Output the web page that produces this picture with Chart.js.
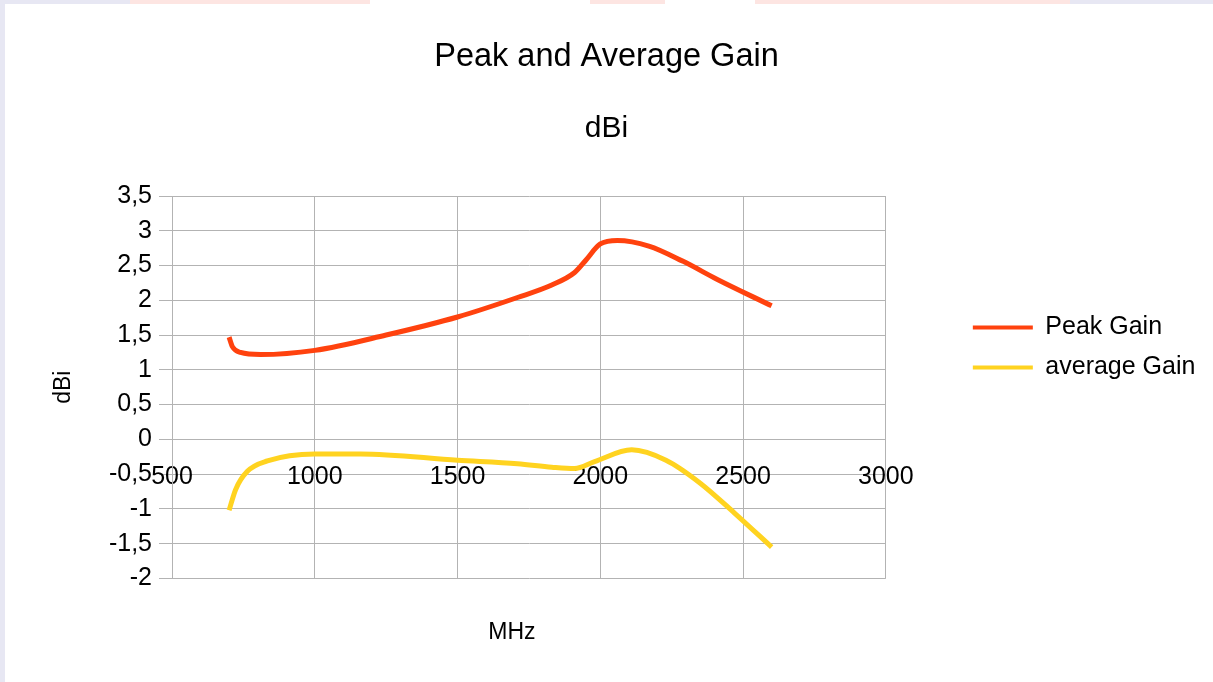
<!DOCTYPE html>
<html>
<head>
<meta charset="utf-8">
<title>Peak and Average Gain</title>
<script src="https://cdn.jsdelivr.net/npm/chart.js@4.4.0/dist/chart.umd.min.js"></script>
<style>
  html, body { margin: 0; padding: 0; background: #fff; }
  #wrap { position: relative; width: 1213px; height: 682px; overflow: hidden; }
  #wrap canvas { position: absolute; left: 0; top: 0; }
  /* faint strips left over from the original screenshot */
  #topStrip { position: absolute; left: 0; top: 0; width: 1213px; height: 4px; pointer-events: none;
    background: linear-gradient(to right, #e7e7f3 0 130px, #fde5e2 130px 370px, #fff 370px 590px,
      #fde5e2 590px 665px, #fff 665px 755px, #fde5e2 755px 1070px, #e7e7f3 1070px 1213px); }
  #leftStrip { position: absolute; left: 0; top: 0; width: 5px; height: 682px; background: #e7e7f3; pointer-events: none; }
</style>
</head>
<body>
<div id="wrap">
  <canvas id="gainChart" width="1213" height="682"></canvas>
  <div id="topStrip"></div>
  <div id="leftStrip"></div>
</div>
<script>
// values
var peakMHz  = [700, 712, 740, 810, 1000, 1250, 1500, 1710, 1830, 1910, 1950, 2000, 2060, 2170, 2290, 2410, 2600];
var peakGain = [1.47, 1.33, 1.25, 1.22, 1.28, 1.50, 1.76, 2.04, 2.22, 2.40, 2.58, 2.81, 2.86, 2.78, 2.56, 2.30, 1.92];

var avgMHz  = [700, 723, 764, 834, 1000, 1160, 1500, 1710, 1830, 1910, 1980, 2110, 2230, 2350, 2470, 2600];
var avgGain = [-1.02, -0.72, -0.46, -0.31, -0.21, -0.21, -0.30, -0.35, -0.40, -0.42, -0.32, -0.15, -0.30, -0.63, -1.06, -1.55];

var seriesNames = ['Peak Gain', 'average Gain'];
var xTicks = [500, 1000, 1500, 2000, 2500, 3000];
var yTicks = [-2, -1.5, -1, -0.5, 0, 0.5, 1, 1.5, 2, 2.5, 3, 3.5];

function points(xs, ys) {
  return xs.map(function(x, i) { return { x: x, y: ys[i] }; });
}
function comma(v) {
  return String(v).replace('.', ',');
}

Chart.defaults.font.family = "'Liberation Sans', Arial, sans-serif";
Chart.defaults.color = '#000';

var gridColor = '#b3b3b3';

// small layout tweaks: MHz title a bit left of centre, legend a fixed gap right of the plot
var tweakLayout = {
  id: 'tweakLayout',
  afterLayout: function(chart) {
    chart.scales.xTitle.left -= 34;
    var lg = chart.legend;
    lg.left = chart.chartArea.right + 72;
    lg.right = chart.width;
    lg.width = lg.right - lg.left;
  }
};

var ctx = document.getElementById('gainChart').getContext('2d');
var chart = new Chart(ctx, {
  type: 'line',
  data: {
    datasets: [{
      label: seriesNames[0],
      data: points(peakMHz, peakGain),
      borderColor: '#ff420e',
      backgroundColor: '#ff420e',
      borderWidth: 5,
      pointRadius: 0,
      cubicInterpolationMode: 'monotone',
      fill: false
    }, {
      label: seriesNames[1],
      data: points(avgMHz, avgGain),
      borderColor: '#ffd320',
      backgroundColor: '#ffd320',
      borderWidth: 5,
      pointRadius: 0,
      cubicInterpolationMode: 'monotone',
      fill: false
    }]
  },
  options: {
    responsive: false,
    animation: false,
    layout: { padding: 0 },
    plugins: {
      title: {
        display: true,
        text: 'Peak and Average Gain',
        font: { size: 32.5, weight: 'normal' },
        padding: { top: 38, bottom: 0 }
      },
      subtitle: {
        display: true,
        text: 'dBi',
        color: '#000',
        font: { size: 30 },
        padding: { top: 34, bottom: 49 }
      },
      legend: {
        position: 'right',
        align: 'start',
        fullSize: false,
        title: { display: true, text: '', font: { size: 10, lineHeight: 1 }, padding: { top: 94, bottom: 0 } },
        labels: {
          boxWidth: 60,
          boxHeight: 4,
          padding: 15,
          font: { size: 25 },
          generateLabels: function(chart) {
            var items = Chart.defaults.plugins.legend.labels.generateLabels(chart);
            items.forEach(function(it) {
              it.lineWidth = 0;
              it.fillStyle = it.strokeStyle;
            });
            return items;
          }
        }
      },
      tooltip: { enabled: false }
    },
    scales: {
      x: {
        type: 'linear',
        position: { y: 0 },
        min: 500,
        max: 3000,
        afterBuildTicks: function(s) {
          s.ticks = xTicks.map(function(v) { return { value: v }; });
        },
        ticks: {
          font: { size: 25 },
          padding: 23,
          maxRotation: 0,
          autoSkip: false,
          callback: function(v) { return String(v); }
        },
        grid: { color: gridColor, drawTicks: false },
        border: { color: gridColor }
      },
      xTitle: {
        type: 'linear',
        axis: 'x',
        position: 'bottom',
        display: true,
        ticks: { display: false },
        grid: { display: false, drawTicks: false },
        border: { display: false },
        title: {
          display: true,
          text: 'MHz',
          font: { size: 23 },
          padding: { top: 40, bottom: 36 }
        }
      },
      y: {
        type: 'linear',
        position: 'left',
        min: -2,
        max: 3.5,
        afterBuildTicks: function(s) {
          s.ticks = yTicks.map(function(v) { return { value: v }; });
        },
        afterFit: function(s) { s.width = 172; },
        ticks: {
          font: { size: 25 },
          padding: 7,
          callback: function(v) { return comma(v); }
        },
        grid: { color: gridColor, tickLength: 13 },
        border: { color: gridColor },
        title: {
          display: true,
          text: 'dBi',
          font: { size: 23 },
          padding: { top: 50, bottom: 0 }
        }
      },
      gap: {
        type: 'linear',
        axis: 'y',
        position: 'right',
        display: true,
        ticks: { display: false },
        grid: { display: false, drawTicks: false },
        border: { display: false },
        afterFit: function(s) { s.width = 125; }
      }
    }
  },
  plugins: [tweakLayout]
});
</script>
</body>
</html>
